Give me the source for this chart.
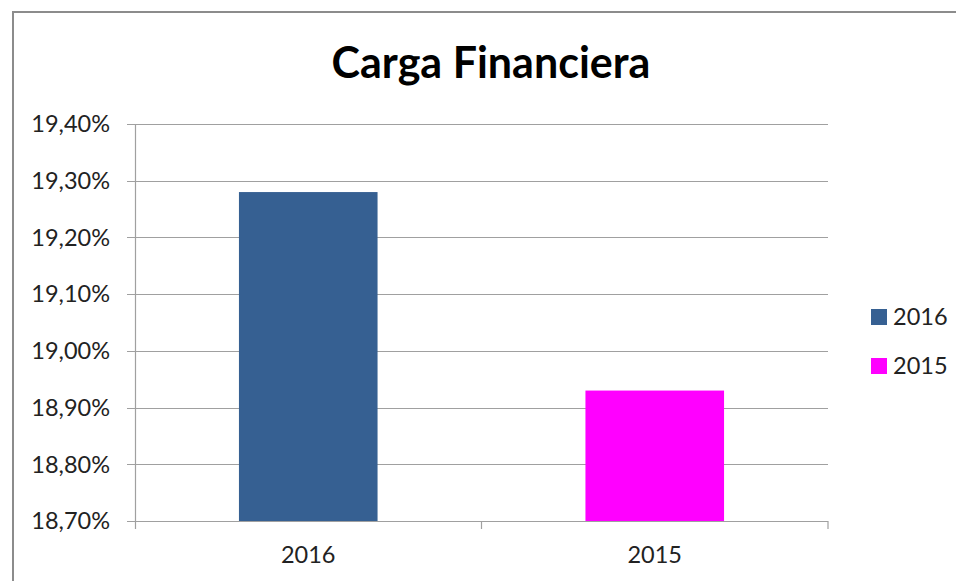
<!DOCTYPE html>
<html>
<head>
<meta charset="utf-8">
<script src="https://cdn.jsdelivr.net/npm/d3@7"></script>
<style>
  html, body { margin: 0; background: #fff; overflow: hidden; }
  svg { display: block; }
  text { font-family: Lato, "Open Sans", sans-serif; fill: #222; }
</style>
</head>
<body>
<div id="chart"></div>
<script>
const categories = ['2016', '2015']
const values = [19.28, 18.93]
const colors = ['#366092', '#ff00ff']
const yTicks = [18.7, 18.8, 18.9, 19.0, 19.1, 19.2, 19.3, 19.4]

const W = 956
const H = 581
const margin = { top: 124, left: 135, right: 128, bottom: 60 }
const width = W - margin.left - margin.right
const height = H - margin.top - margin.bottom

const svg = d3
  .select('#chart')
  .append('svg')
  .attr('width', W)
  .attr('height', H)

// outer frame: only top and left edges are in the picture
svg
  .append('rect')
  .attr('x', 12)
  .attr('y', 11)
  .attr('width', W - 12)
  .attr('height', 2)
  .attr('fill', '#8c8c8c')

svg
  .append('rect')
  .attr('x', 12)
  .attr('y', 11)
  .attr('width', 2)
  .attr('height', H - 11)
  .attr('fill', '#8c8c8c')

svg
  .append('text')
  .attr('x', 491)
  .attr('y', 78)
  .attr('text-anchor', 'middle')
  .attr('font-size', 43)
  .attr('font-weight', 'bold')
  .style('fill', '#000')
  .text('Carga Financiera')

const g = svg
  .append('g')
  .attr('transform', 'translate(' + margin.left + ',' + margin.top + ')')

const x = d3
  .scaleBand()
  .domain(categories)
  .range([0, width])
  .paddingInner(0.6)
  .paddingOuter(0.3)

const y = d3
  .scaleLinear()
  .domain([18.7, 19.4])
  .range([height, 0])

const fmt = d => d.toFixed(2).replace('.', ',') + '%'

// gridlines
g.append('g')
  .selectAll('line')
  .data(yTicks)
  .enter()
  .append('line')
  .attr('x1', -8)
  .attr('x2', width)
  .attr('y1', d => Math.round(y(d)) + 0.5)
  .attr('y2', d => Math.round(y(d)) + 0.5)
  .attr('stroke', '#a0a0a0')
  .attr('stroke-width', 1.2)

// y axis line
g.append('line')
  .attr('x1', 0.5)
  .attr('x2', 0.5)
  .attr('y1', 0)
  .attr('y2', height + 8)
  .attr('stroke', '#a0a0a0')
  .attr('stroke-width', 1.2)

// x tick marks between categories
const xTicks = [width / 2, width]
g.append('g')
  .selectAll('line')
  .data(xTicks)
  .enter()
  .append('line')
  .attr('x1', d => d)
  .attr('x2', d => d)
  .attr('y1', height)
  .attr('y2', height + 8)
  .attr('stroke', '#a0a0a0')
  .attr('stroke-width', 1.2)

g.append('g')
  .selectAll('text')
  .data(yTicks)
  .enter()
  .append('text')
  .attr('x', -25)
  .attr('y', d => y(d))
  .attr('dy', '0.35em')
  .attr('text-anchor', 'end')
  .attr('font-size', 23.5)
  .text(fmt)

g.append('g')
  .selectAll('rect')
  .data(values)
  .enter()
  .append('rect')
  .attr('x', (d, i) => x(categories[i]))
  .attr('width', x.bandwidth())
  .attr('y', d => y(d))
  .attr('height', d => height - y(d))
  .attr('fill', (d, i) => colors[i])

g.append('g')
  .selectAll('text')
  .data(categories)
  .enter()
  .append('text')
  .attr('x', d => x(d) + x.bandwidth() / 2)
  .attr('y', height + 42)
  .attr('text-anchor', 'middle')
  .attr('font-size', 23.5)
  .text(d => d)

const legend = svg
  .append('g')
  .selectAll('g')
  .data(categories)
  .enter()
  .append('g')
  .attr('transform', (d, i) => `translate(871,${309 + i * 49})`)

legend
  .append('rect')
  .attr('width', 16)
  .attr('height', 16)
  .attr('fill', (d, i) => colors[i])

legend
  .append('text')
  .attr('x', 22)
  .attr('y', 8)
  .attr('dy', '0.36em')
  .attr('font-size', 23.5)
  .text(d => d)
</script>
</body>
</html>
